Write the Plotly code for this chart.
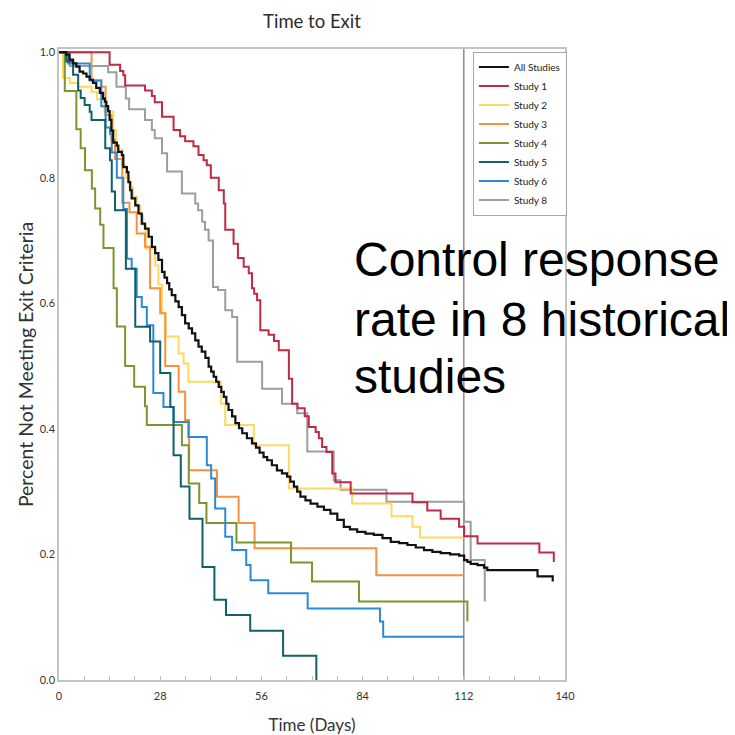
import plotly.graph_objects as go

# ---------------- data ----------------
t_all = [0, 2.0, 2.9, 3.9, 4.8, 5.7, 6.7, 7.6, 8.5, 9.4,
         10.3, 11.3, 12.2, 12.7, 13.1, 13.6, 14.0, 14.5, 15.0, 16.0,
         16.4, 17.4, 17.8, 18.8, 19.2, 19.7, 20.1, 21.1, 22.0, 22.9,
         23.8, 24.8, 25.7, 26.6, 27.5, 28.5, 29.2, 29.9, 30.5, 31.2,
         32.2, 33.1, 34.0, 34.9, 35.9, 36.8, 37.7, 38.6, 39.5, 40.5,
         41.4, 42.1, 42.8, 43.5, 44.2, 44.9, 45.6, 46.3, 46.9, 47.9,
         48.8, 49.8, 50.7, 52.0, 53.4, 54.5, 55.5, 56.6, 57.6, 58.9,
         60.3, 61.7, 63.1, 64.0, 65.0, 65.9, 66.8, 68.2, 69.6, 71.5,
         73.3, 75.1, 77.0, 78.8, 80.5, 82.5, 84.8, 87.1, 89.5, 91.8,
         94.1, 96.4, 98.7, 101.0, 103.3, 105.6, 108.2, 110.7, 112.1, 113.0,
         113.9, 115.8, 117.6, 118.5, 132.4, 136.6]
s_all = [1.0, 0.996, 0.988, 0.982, 0.977, 0.969, 0.966, 0.961, 0.956, 0.951,
         0.943, 0.935, 0.926, 0.921, 0.914, 0.906, 0.892, 0.875, 0.856, 0.851,
         0.841, 0.836, 0.817, 0.809, 0.793, 0.78, 0.767, 0.756, 0.743, 0.727,
         0.719, 0.706, 0.69, 0.68, 0.669, 0.65, 0.641, 0.632, 0.622, 0.613,
         0.603, 0.594, 0.581, 0.568, 0.56, 0.552, 0.541, 0.531, 0.523, 0.513,
         0.499, 0.491, 0.483, 0.475, 0.467, 0.459, 0.451, 0.44, 0.43, 0.42,
         0.409, 0.401, 0.393, 0.385, 0.377, 0.37, 0.362, 0.355, 0.35, 0.342,
         0.334, 0.329, 0.324, 0.316, 0.308, 0.3, 0.292, 0.286, 0.281, 0.276,
         0.271, 0.265, 0.255, 0.244, 0.24, 0.236, 0.233, 0.231, 0.226, 0.22,
         0.218, 0.215, 0.211, 0.207, 0.204, 0.202, 0.2, 0.198, 0.191, 0.188,
         0.185, 0.183, 0.179, 0.175, 0.165, 0.157]

t1 = [0, 14.0, 16.9, 17.8, 18.3, 23.8, 25.7, 26.5, 28.5, 31.7,
      33.5, 34.9, 37.2, 38.6, 40.0, 40.9, 42.0, 44.2, 45.6, 46.0,
      48.3, 49.5, 51.1, 52.5, 53.4, 54.0, 54.8, 55.7, 58.0, 59.5,
      60.8, 63.6, 64.5, 66.0, 68.0, 69.1, 71.0, 71.9, 72.8, 74.0,
      75.6, 76.5, 80.7, 97.8, 101.9, 105.6, 110.7, 112.1, 115.8, 132.9,
      136.9]
s1 = [1.0, 0.98, 0.97, 0.963, 0.947, 0.939, 0.93, 0.92, 0.897, 0.876,
      0.866, 0.858, 0.85, 0.836, 0.828, 0.82, 0.80, 0.78, 0.759, 0.717,
      0.695, 0.672, 0.658, 0.648, 0.624, 0.615, 0.605, 0.557, 0.55, 0.54,
      0.525, 0.48, 0.44, 0.433, 0.42, 0.403, 0.395, 0.385, 0.371, 0.363,
      0.329, 0.315, 0.297, 0.283, 0.27, 0.257, 0.244, 0.229, 0.2175, 0.203,
      0.188]

t2 = [0, 1.1, 3.0, 5.3, 9.0, 10.5, 12.6, 15.0, 15.8, 17.5,
      18.5, 19.5, 20.5, 21.5, 22.5, 23.3, 24.0, 26.6, 27.5, 28.5,
      29.5, 33.1, 34.5, 35.8, 44.8, 46.0, 53.9, 63.6, 81.1, 92.0,
      97.8, 99.9, 112.0]
s2 = [1.0, 0.959, 0.951, 0.945, 0.937, 0.925, 0.905, 0.875, 0.845, 0.82,
      0.80, 0.785, 0.77, 0.755, 0.74, 0.725, 0.687, 0.66, 0.63, 0.584,
      0.547, 0.52, 0.504, 0.475, 0.44, 0.406, 0.374, 0.305, 0.281, 0.261,
      0.244, 0.227, 0.227]

t3 = [0, 9.0, 11.7, 12.9, 14.5, 15.5, 17.5, 19.5, 21.5, 23.8,
      25.2, 28.0, 29.4, 33.1, 34.9, 36.0, 43.7, 49.7, 54.1, 87.8,
      112.0]
s3 = [1.0, 0.955, 0.945, 0.90, 0.86, 0.83, 0.76, 0.745, 0.711, 0.69,
      0.624, 0.584, 0.50, 0.459, 0.414, 0.334, 0.292, 0.25, 0.21, 0.167,
      0.167]

t4 = [0, 1.6, 4.8, 6.0, 7.2, 9.1, 10.0, 11.4, 12.3, 15.1,
      16.0, 18.3, 20.8, 23.8, 24.3, 34.0, 35.9, 38.8, 40.8, 49.1,
      64.2, 70.0, 83.0, 113.0]
s4 = [1.0, 0.938, 0.877, 0.847, 0.812, 0.783, 0.751, 0.725, 0.688, 0.624,
      0.563, 0.50, 0.467, 0.436, 0.406, 0.374, 0.313, 0.282, 0.25, 0.219,
      0.187, 0.157, 0.125, 0.093]

t5 = [0, 2.0, 3.9, 5.3, 6.0, 7.1, 8.5, 9.0, 12.8, 14.1,
      14.6, 15.5, 18.5, 21.1, 25.2, 28.0, 30.8, 31.7, 33.7, 36.1,
      39.7, 43.0, 46.2, 52.9, 62.0, 71.2]
s5 = [1.0, 0.985, 0.964, 0.939, 0.927, 0.916, 0.905, 0.892, 0.847, 0.828,
      0.778, 0.748, 0.655, 0.5626, 0.539, 0.489, 0.435, 0.358, 0.308, 0.257,
      0.18, 0.128, 0.1035, 0.0785, 0.0387, 0.0]

t6 = [0, 2.5, 8.5, 11.7, 12.9, 14.1, 14.6, 16.0, 17.8, 18.8,
      20.1, 21.5, 22.9, 24.3, 26.1, 28.9, 31.7, 35.8, 40.9, 42.1,
      43.2, 46.0, 47.9, 51.8, 53.0, 57.9, 68.8, 88.8, 89.7, 112.0]
s6 = [1.0, 0.982, 0.955, 0.914, 0.88, 0.87, 0.84, 0.80, 0.75, 0.671,
      0.655, 0.61, 0.594, 0.565, 0.457, 0.435, 0.411, 0.387, 0.342, 0.321,
      0.273, 0.228, 0.207, 0.183, 0.159, 0.138, 0.114, 0.093, 0.069, 0.069]

t8 = [0, 3.0, 13.6, 15.9, 18.5, 19.4, 23.8, 25.7, 26.5, 28.5,
      29.9, 34.0, 37.7, 38.5, 39.6, 40.4, 41.4, 42.6, 44.0, 46.0,
      47.9, 49.3, 56.2, 61.7, 65.9, 68.7, 76.0, 77.9, 90.6, 112.1,
      113.9, 117.8]
s8 = [1.0, 0.978, 0.968, 0.945, 0.926, 0.909, 0.892, 0.876, 0.863, 0.839,
      0.81, 0.775, 0.759, 0.748, 0.73, 0.717, 0.70, 0.626, 0.621, 0.589,
      0.578, 0.507, 0.464, 0.44, 0.425, 0.364, 0.318, 0.303, 0.284, 0.252,
      0.191, 0.125]

x_ticks = [0, 28, 56, 84, 112, 140]
y_ticks = [0.0, 0.2, 0.4, 0.6, 0.8, 1.0]
note_lines = ["Control response", "rate in 8 historical", "studies"]

# ---------------- figure ----------------
series = [
    # (name, times, values, color, width, legend rank) -- drawing order
    ("Study 8", t8, s8, "#9d9d9d", 2.0, 8),
    ("Study 2", t2, s2, "#fdd95f", 2.0, 3),
    ("Study 3", t3, s3, "#f7913b", 2.0, 4),
    ("Study 4", t4, s4, "#7b962f", 2.0, 5),
    ("Study 6", t6, s6, "#2b8ad6", 2.0, 7),
    ("Study 5", t5, s5, "#10606b", 2.0, 6),
    ("Study 1", t1, s1, "#bf2a44", 2.0, 2),
    ("All Studies", t_all, s_all, "#111111", 2.2, 1),
]

fig = go.Figure()
for name, t, s, col, w, rank in series:
    fig.add_trace(go.Scatter(
        x=t, y=s, mode="lines", name=name, legendrank=rank,
        line=dict(shape="hv", color=col, width=w),
    ))

FONT = "Lato, Noto Sans, sans-serif"
axis_font = dict(family=FONT, size=11, color="#333333")

fig.update_xaxes(
    range=[0, 140], tickvals=x_ticks, showgrid=False, zeroline=False,
    showline=True, linecolor="#c4c4c4", linewidth=1.5, mirror=True,
    ticks="inside", ticklen=4, tickcolor="#bdbdbd", tickwidth=1,
    minor=dict(dtick=7, ticks="inside", ticklen=4, tickcolor="#bdbdbd"),
    tickfont=axis_font, ticklabelstandoff=5, automargin=False,
    title=dict(text="Time (Days)", font=dict(family=FONT, size=17, color="#333333"),
               standoff=21),
)
fig.update_yaxes(
    range=[0, 1.005], tickvals=y_ticks, tickformat=".1f", showgrid=False,
    zeroline=False, showline=True, linecolor="#c4c4c4", linewidth=1.5,
    mirror=True, ticks="", tickfont=axis_font, automargin=False,
    title=dict(text="Percent Not Meeting Exit Criteria",
               font=dict(family=FONT, size=19.5, color="#333333"), standoff=1),
)

fig.add_shape(type="line", xref="x", yref="paper", x0=112, x1=112, y0=0, y1=1.0,
              line=dict(color="#8c8c8c", width=1.5), layer="below")

note_y = [0.666, 0.571, 0.481]
for txt, yy in zip(note_lines, note_y):
    fig.add_annotation(text=txt, xref="paper", yref="paper", x=0.579, y=yy,
                       xanchor="left", yanchor="middle", showarrow=False,
                       font=dict(family="Liberation Sans, Arial, sans-serif",
                                 size=48, color="#000000"))

# the page adds an 8px body margin, so the figure is 727px and offsets shrink by 8
fig.update_layout(
    width=727, height=727,
    margin=dict(l=51, r=170, t=41, b=55),
    paper_bgcolor="white", plot_bgcolor="white",
    title=dict(text="Time to Exit", x=0.5, xref="paper", xanchor="center",
               y=1 - 14 / 727, yanchor="middle",
               font=dict(family=FONT, size=18.5, color="#2b2b2b")),
    legend=dict(x=0.818, y=0.996, xanchor="left", yanchor="top",
                bordercolor="#a8a8a8", borderwidth=1, bgcolor="white",
                font=dict(family=FONT, size=10, color="#222222"),
                itemwidth=30),
    showlegend=True,
)

fig.write_html("out.html")
